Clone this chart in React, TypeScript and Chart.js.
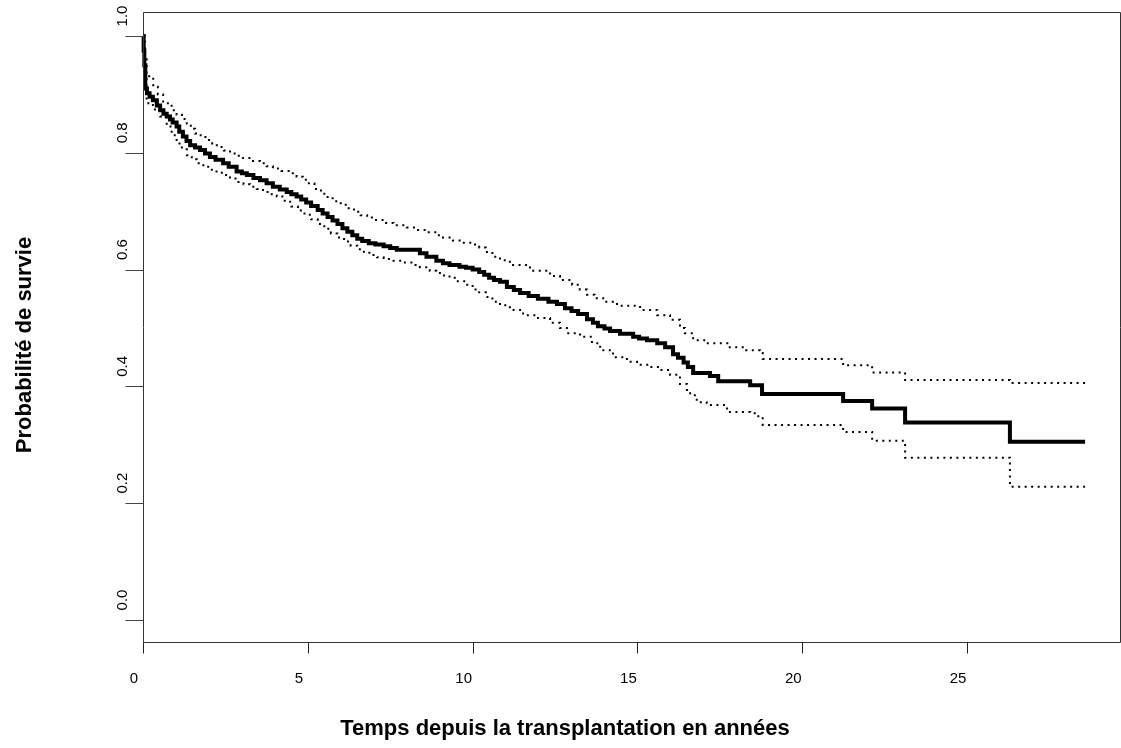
import React, { useEffect, useRef } from "react";
import { Chart, registerables } from "chart.js";

Chart.register(...registerables);

// Kaplan-Meier estimate (time in years, survival probability)
const kmTime = [0, 0.02, 0.04, 0.07, 0.12, 0.2, 0.3, 0.42, 0.52, 0.62, 0.72, 0.82, 0.9, 1.02, 1.1, 1.21, 1.32, 1.43, 1.58, 1.73, 1.88, 2.03, 2.2, 2.43, 2.6, 2.84, 3.0, 3.15, 3.35, 3.55, 3.75, 3.94, 4.15, 4.36, 4.5, 4.66, 4.8, 4.95, 5.1, 5.3, 5.45, 5.6, 5.75, 5.9, 6.05, 6.2, 6.35, 6.5, 6.65, 6.85, 7.05, 7.3, 7.5, 7.7, 8.4, 8.6, 8.9, 9.1, 9.3, 9.6, 9.8, 10.0, 10.2, 10.35, 10.5, 10.65, 10.83, 11.04, 11.25, 11.44, 11.7, 11.98, 12.3, 12.56, 12.8, 13.0, 13.2, 13.47, 13.65, 13.8, 14.0, 14.17, 14.47, 14.87, 15.05, 15.29, 15.6, 15.84, 16.08, 16.23, 16.4, 16.53, 16.69, 17.2, 17.45, 18.42, 18.78, 21.24, 22.12, 23.12, 26.3, 28.58];
const kmSurv = [1.0, 0.975, 0.95, 0.91, 0.902, 0.896, 0.89, 0.881, 0.873, 0.867, 0.862, 0.857, 0.852, 0.845, 0.836, 0.828, 0.82, 0.813, 0.809, 0.805, 0.799, 0.793, 0.788, 0.782, 0.776, 0.768, 0.765, 0.762, 0.757, 0.753, 0.748, 0.742, 0.737, 0.733, 0.729, 0.725, 0.72, 0.715, 0.709, 0.702, 0.696, 0.69, 0.684, 0.678, 0.671, 0.665, 0.659, 0.653, 0.649, 0.645, 0.643, 0.64, 0.637, 0.634, 0.628, 0.622, 0.615, 0.611, 0.608, 0.605, 0.603, 0.6, 0.596, 0.591, 0.586, 0.582, 0.579, 0.57, 0.565, 0.56, 0.555, 0.55, 0.545, 0.541, 0.534, 0.529, 0.524, 0.515, 0.509, 0.503, 0.499, 0.495, 0.49, 0.485, 0.482, 0.479, 0.474, 0.467, 0.455, 0.449, 0.441, 0.433, 0.423, 0.418, 0.409, 0.402, 0.387, 0.375, 0.362, 0.338, 0.305, 0.305];

// Upper confidence bound
const upperTime = [0, 0.05, 0.11, 0.31, 0.45, 0.61, 0.87, 1.02, 1.18, 1.33, 1.45, 1.58, 1.75, 1.93, 2.1, 2.24, 2.45, 2.64, 2.85, 3.03, 3.3, 3.55, 3.75, 3.94, 4.2, 4.46, 4.66, 4.85, 5.0, 5.2, 5.4, 5.6, 5.8, 6.0, 6.2, 6.4, 6.6, 6.8, 7.0, 7.3, 7.6, 8.0, 8.3, 8.6, 8.9, 9.1, 9.4, 9.7, 10.0, 10.2, 10.4, 10.6, 10.83, 11.13, 11.74, 12.35, 12.65, 13.02, 13.25, 13.47, 13.7, 13.96, 14.38, 15.08, 15.6, 15.99, 16.29, 16.44, 16.69, 17.1, 17.8, 18.3, 18.72, 18.8, 21.24, 22.12, 23.12, 26.3, 28.58];
const upperSurv = [1.0, 0.96, 0.931, 0.913, 0.9, 0.885, 0.873, 0.865, 0.858, 0.85, 0.841, 0.833, 0.827, 0.822, 0.816, 0.81, 0.804, 0.799, 0.795, 0.791, 0.786, 0.782, 0.777, 0.773, 0.769, 0.765, 0.759, 0.754, 0.748, 0.738, 0.73, 0.722, 0.717, 0.711, 0.705, 0.699, 0.693, 0.689, 0.685, 0.68, 0.676, 0.672, 0.668, 0.664, 0.659, 0.655, 0.65, 0.646, 0.643, 0.638, 0.63, 0.622, 0.616, 0.608, 0.598, 0.589, 0.582, 0.574, 0.566, 0.557, 0.551, 0.545, 0.538, 0.531, 0.522, 0.514, 0.5, 0.491, 0.479, 0.474, 0.467, 0.462, 0.457, 0.447, 0.436, 0.424, 0.411, 0.406, 0.406];

// Lower confidence bound
const lowerTime = [0, 0.05, 0.11, 0.3, 0.52, 0.72, 0.87, 1.02, 1.18, 1.33, 1.48, 1.63, 1.83, 2.03, 2.23, 2.43, 2.64, 2.84, 3.05, 3.25, 3.45, 3.64, 3.85, 4.06, 4.3, 4.5, 4.7, 4.9, 5.1, 5.3, 5.5, 5.7, 5.9, 6.1, 6.3, 6.5, 6.7, 6.9, 7.1, 7.3, 7.6, 7.9, 8.2, 8.4, 8.7, 8.9, 9.1, 9.3, 9.55, 9.8, 10.0, 10.2, 10.4, 10.6, 10.83, 11.13, 11.53, 11.95, 12.35, 12.65, 12.86, 13.26, 13.62, 13.87, 14.26, 14.68, 14.99, 15.38, 15.69, 15.99, 16.29, 16.5, 16.6, 16.8, 17.1, 17.72, 18.42, 18.63, 18.8, 21.24, 22.12, 23.12, 26.3, 28.58];
const lowerSurv = [1.0, 0.93, 0.885, 0.874, 0.862, 0.845, 0.83, 0.816, 0.806, 0.796, 0.789, 0.782, 0.776, 0.771, 0.766, 0.762, 0.756, 0.75, 0.746, 0.742, 0.738, 0.733, 0.729, 0.725, 0.716, 0.708, 0.701, 0.694, 0.686, 0.678, 0.67, 0.662, 0.655, 0.648, 0.641, 0.635, 0.629, 0.625, 0.621, 0.618, 0.615, 0.612, 0.608, 0.604, 0.598, 0.594, 0.59, 0.586, 0.58, 0.574, 0.566, 0.561, 0.553, 0.545, 0.539, 0.531, 0.522, 0.517, 0.509, 0.5, 0.491, 0.485, 0.474, 0.462, 0.45, 0.442, 0.437, 0.433, 0.428, 0.42, 0.404, 0.394, 0.385, 0.373, 0.368, 0.356, 0.354, 0.349, 0.334, 0.322, 0.307, 0.278, 0.228, 0.228];

const xTicks = [0, 5, 10, 15, 20, 25];
const xTickLabels = ["0", "5", "10", "15", "20", "25"];
const yTicks = [0, 0.2, 0.4, 0.6, 0.8, 1.0];
const yTickLabels = ["0.0", "0.2", "0.4", "0.6", "0.8", "1.0"];
const xTitle = "Temps depuis la transplantation en années";
const yTitle = "Probabilité de survie";

const FONT = "'Liberation Sans', Arial, Helvetica, sans-serif";

const rAxesPlugin = {
  id: "rAxes",
  afterDraw(chart: any) {
    const { ctx, chartArea: a, scales } = chart;
    const xs = scales.x;
    const ys = scales.y;
    ctx.save();
    // box
    ctx.strokeStyle = "#333";
    ctx.lineWidth = 1;
    const L = Math.round(a.left) + 0.5;
    const T = Math.round(a.top) + 0.5;
    const R = Math.round(a.right) - 0.5;
    const B = Math.round(a.bottom) - 0.5;
    ctx.beginPath();
    ctx.moveTo(L, T);
    ctx.lineTo(R, T);
    ctx.lineTo(R, B);
    ctx.lineTo(L, B);
    ctx.closePath();
    ctx.stroke();

    // x ticks
    ctx.strokeStyle = "#222";
    ctx.beginPath();
    xTicks.forEach((v) => {
      const px = Math.round(xs.getPixelForValue(v)) + 0.5;
      ctx.moveTo(px, B);
      ctx.lineTo(px, B + 11);
    });
    ctx.stroke();

    // y ticks
    ctx.strokeStyle = "#444";
    ctx.beginPath();
    yTicks.forEach((v) => {
      const py = Math.round(ys.getPixelForValue(v)) + 0.5;
      ctx.moveTo(L, py);
      ctx.lineTo(L - 18, py);
    });
    ctx.stroke();

    // tick labels
    ctx.fillStyle = "#000";
    ctx.font = `15px ${FONT}`;
    ctx.textAlign = "center";
    ctx.textBaseline = "middle";
    xTicks.forEach((v, i) => {
      const px = xs.getPixelForValue(v);
      ctx.fillText(xTickLabels[i], px - 9, 679);
    });
    yTicks.forEach((v, i) => {
      const py = ys.getPixelForValue(v);
      ctx.save();
      ctx.translate(123, py - 20);
      ctx.rotate(-Math.PI / 2);
      ctx.fillText(yTickLabels[i], 0, 0);
      ctx.restore();
    });

    // titles
    ctx.font = `bold 22px ${FONT}`;
    ctx.fillText(xTitle, 565, 729);
    ctx.save();
    ctx.translate(25, 345);
    ctx.rotate(-Math.PI / 2);
    ctx.fillText(yTitle, 0, 0);
    ctx.restore();
    ctx.restore();
  },
};

export default function App() {
  const ref = useRef<HTMLCanvasElement | null>(null);
  useEffect(() => {
    if (!ref.current) return;
    const toPts = (t: number[], s: number[]) => t.map((x, i) => ({ x, y: s[i] }));
    const chart = new Chart(ref.current, {
      type: "scatter",
      data: {
        datasets: [
          {
            data: toPts(lowerTime, lowerSurv),
            showLine: true,
            stepped: true,
            borderColor: "#000",
            borderWidth: 2,
            borderDash: [2, 4.5],
            pointRadius: 0,
            clip: false,
          },
          {
            data: toPts(upperTime, upperSurv),
            showLine: true,
            stepped: true,
            borderColor: "#000",
            borderWidth: 2,
            borderDash: [2, 4.5],
            pointRadius: 0,
            clip: false,
          },
          {
            data: toPts(kmTime, kmSurv),
            showLine: true,
            stepped: true,
            borderColor: "#000",
            borderWidth: 4,
            borderJoinStyle: "miter",
            pointRadius: 0,
            clip: false,
          },
        ],
      } as any,
      options: {
        animation: false,
        responsive: false,
        devicePixelRatio: 1,
        events: [],
        layout: { padding: { left: 143, top: 12, right: 0, bottom: 105 } },
        scales: {
          x: { type: "linear", min: 0, max: 29.67, display: false },
          y: { type: "linear", min: -0.0394, max: 1.0411, display: false },
        },
        plugins: { legend: { display: false }, tooltip: { enabled: false } },
      } as any,
      plugins: [rAxesPlugin],
    });
    return () => chart.destroy();
  }, []);
  return (
    <div style={{ position: "absolute", left: 0, top: 0, width: 1121, height: 748, background: "#fff" }}>
      <canvas ref={ref} width={1121} height={748} style={{ display: "block" }} />
    </div>
  );
}
